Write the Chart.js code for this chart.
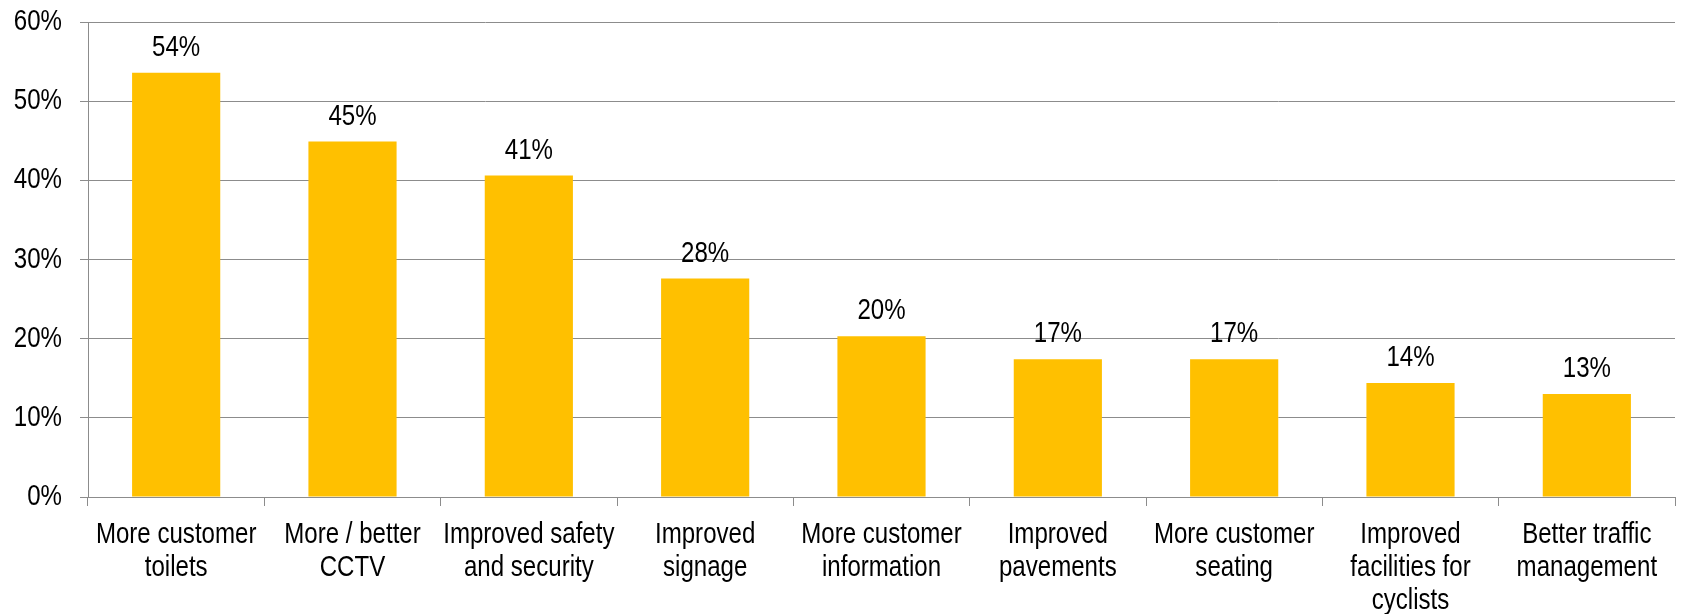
<!DOCTYPE html>
<html>
<head>
<meta charset="utf-8">
<script src="https://cdn.jsdelivr.net/npm/chart.js@4/dist/chart.umd.min.js"></script>
<style>
  html, body { margin: 0; padding: 0; background: #fff; }
  #wrap { width: 1684px; height: 614px; }
</style>
</head>
<body>
<div id="wrap"><canvas id="myChart" width="1684" height="614"></canvas></div>
<script>
// improvement categories, split into lines as they appear under the axis
var categories = [
    ['More customer', 'toilets'],
    ['More / better', 'CCTV'],
    ['Improved safety', 'and security'],
    ['Improved', 'signage'],
    ['More customer', 'information'],
    ['Improved', 'pavements'],
    ['More customer', 'seating'],
    ['Improved', 'facilities for', 'cyclists'],
    ['Better traffic', 'management']
];

// share of respondents (%)
var shares = [53.6, 44.9, 40.6, 27.6, 20.3, 17.4, 17.4, 14.4, 13.0];

var yTicks = [0, 10, 20, 30, 40, 50, 60];

var FONT = "'Liberation Sans', Arial, sans-serif";
var FONT_SIZE = 29;
var GRID = '#8c8c8c';
var SQUEEZE = 0.83;   // no narrow face installed, so squeeze glyphs horizontally

// every fillText during a chart draw gets squeezed around its anchor point
var narrowText = {
    id: 'narrowText',
    beforeDraw: function (chart) {
        var ctx = chart.ctx;
        var orig = CanvasRenderingContext2D.prototype.fillText;
        ctx.fillText = function (t, x, y) {
            this.save();
            this.translate(x, y);
            this.scale(SQUEEZE, 1);
            orig.call(this, t, 0, 0);
            this.restore();
        };
    },
    afterDraw: function (chart) {
        delete chart.ctx.fillText;
    }
};

// writes the rounded value above each bar
var valueLabels = {
    id: 'valueLabels',
    afterDatasetsDraw: function (chart) {
        var ctx = chart.ctx;
        var meta = chart.getDatasetMeta(0);
        ctx.save();
        ctx.font = FONT_SIZE + 'px ' + FONT;
        ctx.fillStyle = '#000';
        ctx.textAlign = 'center';
        ctx.textBaseline = 'alphabetic';
        meta.data.forEach(function (bar, i) {
            ctx.fillText(Math.round(shares[i]) + '%', bar.x, bar.y - 17);
        });
        ctx.restore();
    }
};

var ctx = document.getElementById('myChart').getContext('2d');
var chart = new Chart(ctx, {
    type: 'bar',
    data: {
        labels: categories,
        datasets: [{
            data: shares,
            backgroundColor: '#FFC000',
            borderWidth: 0,
            categoryPercentage: 1,
            barPercentage: 0.5
        }]
    },
    options: {
        responsive: false,
        animation: false,
        layout: { padding: { top: 22, right: 9, left: 0, bottom: 0 } },
        plugins: {
            legend: { display: false },
            tooltip: { enabled: false }
        },
        scales: {
            y: {
                min: 0,
                max: 60,
                afterBuildTicks: function (scale) {
                    scale.ticks = yTicks.map(function (v) { return { value: v }; });
                },
                afterFit: function (scale) {
                    scale.width = 88;
                    scale.paddingTop = 0;
                    scale.paddingBottom = 0;
                },
                grid: { color: GRID, lineWidth: 1, tickLength: 8 },
                border: { color: GRID, width: 1 },
                ticks: {
                    color: '#000',
                    font: { family: FONT, size: FONT_SIZE },
                    padding: 18,
                    callback: function (v) { return v + '%'; }
                }
            },
            x: {
                afterFit: function (scale) {
                    scale.height = 117;
                    scale.paddingLeft = 0;
                    scale.paddingRight = 0;
                },
                grid: { drawOnChartArea: false, drawTicks: true, tickLength: 9, color: GRID, offset: true },
                border: { color: GRID, width: 1 },
                ticks: {
                    color: '#000',
                    maxRotation: 0,
                    autoSkip: false,
                    padding: 12,
                    font: { family: FONT, size: FONT_SIZE, lineHeight: 1.15 }
                }
            }
        }
    },
    plugins: [narrowText, valueLabels]
});
</script>
</body>
</html>
